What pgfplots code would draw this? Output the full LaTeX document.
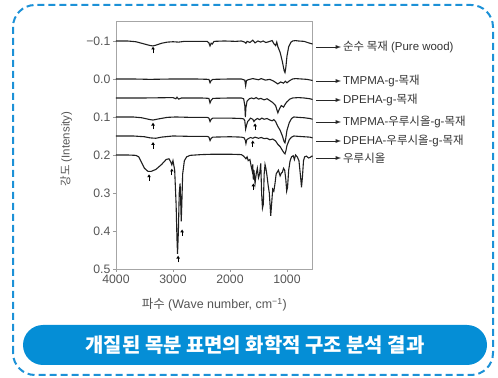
\documentclass[border=0pt]{standalone}
\usepackage{fontspec}
\setmainfont{Liberation Sans}
\newfontfamily\kr{Noto Sans CJK KR}
\usepackage{pgfplots}
\pgfplotsset{compat=1.18}
\definecolor{borderblue}{RGB}{28,145,215}
\definecolor{bannerblue}{RGB}{5,142,214}
\definecolor{labgray}{RGB}{85,85,85}
\pgfdeclareplotmark{uarr}{%
  \pgfsetlinewidth{0.9bp}%
  \pgfpathmoveto{\pgfpoint{0bp}{-3.2bp}}\pgfpathlineto{\pgfpoint{0bp}{1bp}}\pgfusepathqstroke
  \pgfpathmoveto{\pgfpoint{-1.8bp}{0.6bp}}\pgfpathlineto{\pgfpoint{1.8bp}{0.6bp}}\pgfpathlineto{\pgfpoint{0bp}{3.4bp}}\pgfpathclose\pgfusepathqfill}
\begin{document}
\begin{tikzpicture}
\useasboundingbox (0,0) rectangle (498bp,378bp);
\coordinate (axc) at (214.3bp,232.9bp);
\draw[borderblue, line width=2bp, dash pattern=on 7bp off 4bp, rounded corners=22bp] (13bp,3bp) rectangle (493bp,373bp);
\fill[bannerblue, rounded corners=20bp] (23bp,13bp) rectangle (487bp,53bp);
\node[text=white, font=\kr\bfseries\fontsize{20}{20}\selectfont] at (255bp,33bp) {개질된 목분 표면의 화학적 구조 분석 결과};
\begin{axis}[
  scale only axis, width=196.65bp, height=247.76bp,
  at={(axc)}, anchor=center,
  x dir=reverse, y dir=reverse,
  xmin=550, xmax=4000, ymin=-0.152, ymax=0.5,
  xtick={4000,3000,2000,1000}, xticklabels={4000,3000,2000,1000},
  ytick={-0.1,0,0.1,0.2,0.3,0.4,0.5}, yticklabels={−0.1,0.0,0.1,0.2,0.3,0.4,0.5},
  tick align=outside, major tick length=3bp,
  xtick pos=bottom, ytick pos=left,
  tick style={color=gray!80, line width=0.6bp},
  axis line style={color=gray!70, line width=0.8bp},
  tick label style={font=\fontsize{12.3}{12.3}\selectfont, text=labgray},
  xticklabel style={yshift=1bp},
  yticklabel style={xshift=1bp},
  every axis plot/.append style={line width=1.1bp, color=black!88},
]
% Pure wood
\addplot[mark=none] coordinates {
(4000,-0.100)(3800,-0.100)(3650,-0.098)(3500,-0.092)(3400,-0.088)(3350,-0.087)(3300,-0.089)(3200,-0.094)(3100,-0.097)(3000,-0.098)(2900,-0.097)(2800,-0.099)(2600,-0.099)(2400,-0.099)(2370,-0.095)(2350,-0.087)(2330,-0.094)(2310,-0.092)(2280,-0.099)(2100,-0.100)(1900,-0.099)(1800,-0.100)(1740,-0.097)(1720,-0.094)(1700,-0.099)(1650,-0.096)(1600,-0.102)(1560,-0.095)(1510,-0.100)(1460,-0.097)(1420,-0.100)(1370,-0.096)(1320,-0.098)(1260,-0.101)(1230,-0.093)(1200,-0.088)(1180,-0.097)(1160,-0.085)(1120,-0.070)(1080,-0.045)(1050,-0.022)(1035,-0.017)(1020,-0.030)(1000,-0.060)(970,-0.085)(930,-0.097)(900,-0.100)(850,-0.101)(800,-0.100)(700,-0.099)(620,-0.095)(550,-0.092)};
% TMPMA-g
\addplot[mark=none] coordinates {
(4000,0.000)(3700,0.000)(3400,0.001)(3000,0.000)(2600,0.000)(2370,0.001)(2350,0.010)(2330,0.004)(2300,0.001)(2000,0.000)(1800,0.000)(1740,0.003)(1725,0.018)(1710,0.004)(1680,0.002)(1600,-0.001)(1500,0.002)(1450,-0.001)(1380,0.003)(1300,0.001)(1230,0.006)(1160,0.013)(1110,0.008)(1060,0.011)(1030,0.006)(1000,0.010)(950,0.004)(900,0.000)(850,-0.001)(750,0.000)(650,0.001)(550,0.004)};
% DPEHA-g
\addplot[mark=none] coordinates {
(4000,0.050)(3500,0.050)(3000,0.049)(2950,0.052)(2930,0.048)(2900,0.053)(2850,0.050)(2500,0.050)(2370,0.051)(2350,0.063)(2330,0.056)(2300,0.051)(2000,0.050)(1800,0.050)(1760,0.052)(1740,0.070)(1730,0.100)(1720,0.075)(1700,0.058)(1660,0.052)(1620,0.050)(1580,0.052)(1540,0.049)(1500,0.053)(1460,0.051)(1400,0.055)(1350,0.052)(1300,0.057)(1250,0.062)(1200,0.070)(1160,0.089)(1130,0.078)(1100,0.070)(1060,0.074)(1030,0.066)(1000,0.060)(950,0.053)(900,0.050)(800,0.049)(700,0.050)(600,0.052)(550,0.054)};
% TMPMA-urushiol-g
\addplot[mark=none] coordinates {
(4000,0.100)(3700,0.100)(3550,0.102)(3400,0.107)(3350,0.108)(3250,0.105)(3100,0.101)(2950,0.100)(2700,0.101)(2400,0.101)(2370,0.103)(2350,0.112)(2330,0.106)(2300,0.103)(2000,0.103)(1800,0.104)(1760,0.105)(1740,0.110)(1725,0.132)(1710,0.122)(1690,0.112)(1660,0.107)(1640,0.103)(1600,0.106)(1580,0.112)(1560,0.108)(1520,0.104)(1480,0.107)(1440,0.103)(1400,0.106)(1350,0.104)(1300,0.108)(1260,0.110)(1230,0.107)(1200,0.112)(1160,0.125)(1120,0.135)(1080,0.150)(1050,0.165)(1035,0.168)(1020,0.155)(1000,0.135)(960,0.115)(920,0.104)(880,0.100)(800,0.101)(700,0.102)(600,0.104)(550,0.106)};
% DPEHA-urushiol-g
\addplot[mark=none] coordinates {
(4000,0.150)(3700,0.150)(3500,0.152)(3400,0.155)(3300,0.156)(3200,0.153)(3000,0.150)(2700,0.151)(2400,0.151)(2370,0.153)(2350,0.162)(2330,0.156)(2300,0.153)(2000,0.152)(1800,0.153)(1750,0.155)(1730,0.162)(1720,0.170)(1705,0.160)(1680,0.157)(1640,0.154)(1600,0.156)(1560,0.153)(1500,0.156)(1450,0.154)(1400,0.157)(1350,0.156)(1300,0.160)(1250,0.158)(1200,0.163)(1160,0.172)(1120,0.178)(1080,0.188)(1050,0.195)(1035,0.197)(1020,0.190)(1000,0.175)(960,0.160)(920,0.153)(880,0.150)(800,0.151)(700,0.152)(600,0.153)(550,0.155)};
% Urushiol
\addplot[mark=none] coordinates {
(4000,0.200)(3800,0.200)(3650,0.201)(3600,0.205)(3550,0.220)(3500,0.235)(3440,0.243)(3380,0.243)(3300,0.238)(3200,0.225)(3120,0.212)(3070,0.210)(3040,0.218)(3020,0.226)(3000,0.215)(2970,0.240)(2945,0.330)(2930,0.420)(2920,0.460)(2905,0.400)(2890,0.300)(2875,0.275)(2865,0.320)(2855,0.375)(2845,0.330)(2830,0.250)(2800,0.215)(2760,0.205)(2700,0.201)(2500,0.199)(2300,0.198)(2000,0.198)(1800,0.199)(1760,0.203)(1720,0.210)(1700,0.205)(1680,0.215)(1650,0.212)(1630,0.228)(1610,0.242)(1600,0.225)(1590,0.265)(1580,0.240)(1560,0.275)(1540,0.250)(1520,0.235)(1500,0.260)(1480,0.250)(1460,0.222)(1445,0.300)(1430,0.340)(1415,0.330)(1400,0.250)(1385,0.225)(1370,0.235)(1350,0.255)(1330,0.280)(1310,0.300)(1285,0.360)(1270,0.330)(1250,0.290)(1230,0.295)(1210,0.275)(1190,0.250)(1170,0.245)(1150,0.240)(1120,0.255)(1100,0.248)(1080,0.245)(1060,0.235)(1040,0.240)(1020,0.265)(1005,0.295)(990,0.285)(970,0.240)(945,0.215)(920,0.205)(890,0.202)(870,0.212)(850,0.200)(820,0.205)(790,0.215)(760,0.260)(745,0.285)(730,0.260)(710,0.215)(690,0.205)(660,0.203)(620,0.208)(590,0.206)(560,0.203)(550,0.205)};
% peak arrows
\addplot[only marks, mark=uarr, color=black] coordinates {
(3350,-0.076)(3350,0.124)(1560,0.126)(3350,0.175)(1600,0.171)(3420,0.260)(3020,0.245)(2910,0.474)(2840,0.405)(1590,0.284)};
\end{axis}
\node[rotate=90, text=labgray, font=\fontsize{11.5}{11.5}\selectfont] at (66bp,229bp) {{\kr 강도} (Intensity)};
\node[text=labgray, font=\fontsize{12.5}{12.5}\selectfont] at (214.3bp,73bp) {{\kr 파수} (Wave number, cm\textsuperscript{−1})};
\begin{scope}[font=\fontsize{11.5}{11.5}\selectfont, text=black!80]
\foreach \yy/\lab in {331/{{\kr 순수 목재} (Pure wood)}, 297/{TMPMA-g-{\kr 목재}}, 278/{DPEHA-g-{\kr 목재}}, 256/{TMPMA-{\kr 우루시올}-g-{\kr 목재}}, 237/{DPEHA-{\kr 우루시올}-g-{\kr 목재}}, 220/{{\kr 우루시올}}}{
  \draw[-latex, line width=0.9bp, black!85] (316bp,\yy bp) -- (341bp,\yy bp);
  \node[anchor=west, inner sep=0pt] at (343bp,\yy bp) {\lab};
}
\end{scope}
\end{tikzpicture}
\end{document}
